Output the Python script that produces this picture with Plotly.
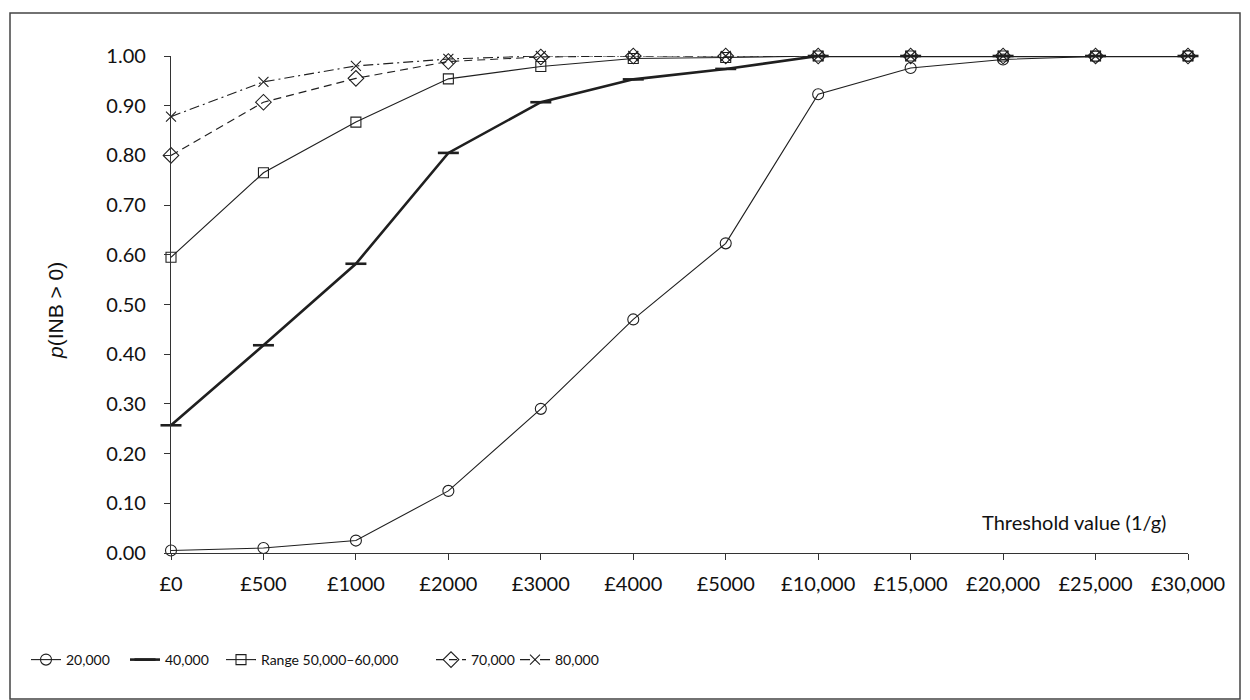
import plotly.graph_objects as go

categories = ["£0", "£500", "£1000", "£2000", "£3000", "£4000", "£5000",
              "£10,000", "£15,000", "£20,000", "£25,000", "£30,000"]
y_ticks = [0.0, 0.1, 0.2, 0.3, 0.4, 0.5, 0.6, 0.7, 0.8, 0.9, 1.0]

s_20000 = [0.005, 0.010, 0.025, 0.125, 0.290, 0.470, 0.623, 0.923, 0.976, 0.993, 0.999, 1.000]
s_40000 = [0.257, 0.418, 0.582, 0.805, 0.907, 0.953, 0.974, 1.000, 1.000, 1.000, 1.000, 1.000]
s_range = [0.595, 0.765, 0.867, 0.954, 0.979, 0.995, 0.997, 1.000, 1.000, 1.000, 1.000, 1.000]
s_70000 = [0.800, 0.907, 0.955, 0.989, 0.998, 1.000, 1.000, 1.000, 1.000, 1.000, 1.000, 1.000]
s_80000 = [0.878, 0.948, 0.980, 0.994, 1.000, 1.000, 1.000, 1.000, 1.000, 1.000, 1.000, 1.000]

series_names = ["20,000", "40,000", "Range 50,000\u201360,000", "70,000", "80,000"]

# page offset introduced by the default body margin of the html page
OFF = 8
W, H = 1250 - OFF, 700 - OFF
# plot area in page coordinates
L, R, T, B = 171, 1188, 56, 553
INK = "#1f1f1f"

def px(xp):
    return (xp - L) / (R - L)

def py(yp):
    return (B - yp) / (B - T)

fig = go.Figure()

styles = [
    dict(data=s_20000, line=dict(color=INK, width=1.1),
         marker=dict(symbol="circle-open", size=11, color=INK, line=dict(width=1.1))),
    dict(data=s_40000, line=dict(color=INK, width=2.6),
         marker=dict(symbol="line-ew", size=15, color=INK, line=dict(width=2.6, color=INK))),
    dict(data=s_range, line=dict(color=INK, width=1.1),
         marker=dict(symbol="square-open", size=10, color=INK, line=dict(width=1.1))),
    dict(data=s_70000, line=dict(color=INK, width=1.1, dash="8px,5px"),
         marker=dict(symbol="diamond-open", size=12, color=INK, line=dict(width=1.1))),
    dict(data=s_80000, line=dict(color=INK, width=1.1, dash="10px,4px,2px,4px"),
         marker=dict(symbol="x-thin-open", size=10, color=INK, line=dict(width=1.1, color=INK))),
]

legend_ids = ["legend", "legend2", "legend3", "legend4", "legend5"]
# page x of each legend box (marker centre sits ~19px to the right)
legend_x = [26, 125, 221, 431, 515]

for name, st, lid in zip(series_names, styles, legend_ids):
    fig.add_trace(go.Scatter(
        x=categories, y=st["data"], name=name, mode="lines+markers",
        line=st["line"], marker=st["marker"], cliponaxis=False,
        legend=lid, showlegend=True,
    ))

legend_font = dict(family="Lato, sans-serif", size=14, color="#111")
layout_legends = {}
for lid, lx in zip(legend_ids, legend_x):
    layout_legends[lid] = dict(
        x=px(lx), y=py(660), xanchor="left", yanchor="middle",
        orientation="h", font=legend_font, bgcolor="rgba(0,0,0,0)",
        borderwidth=0, itemwidth=30,
    )

tick_font = dict(family="Lato, sans-serif", size=20, color="#111")

fig.update_layout(
    width=W, height=H,
    margin=dict(l=L - OFF, r=W - (R - OFF), t=T - OFF, b=H - (B - OFF), pad=0),
    paper_bgcolor="white", plot_bgcolor="white",
    xaxis=dict(
        type="category", range=[0, len(categories) - 1],
        showgrid=False, zeroline=False,
        showline=True, linecolor="#333", linewidth=1.3,
        ticks="outside", ticklen=6, tickcolor="#333", tickwidth=1.3,
        tickfont=tick_font, ticklabelstandoff=7,
    ),
    yaxis=dict(
        range=[0, 1], tickvals=y_ticks, tickformat=".2f",
        showgrid=False, zeroline=False,
        showline=True, linecolor="#333", linewidth=1.3,
        ticks="outside", ticklen=6, tickcolor="#333", tickwidth=1.3,
        tickfont=tick_font, ticklabelstandoff=14,
    ),
    **layout_legends,
    annotations=[
        dict(text="Threshold value (1/g)", xref="paper", yref="paper",
             x=px(1168), y=py(522), xanchor="right", yanchor="middle",
             showarrow=False, font=tick_font),
        dict(text="<i>p</i>(INB > 0)", xref="paper", yref="paper",
             x=px(55), y=py(311), xanchor="center", yanchor="middle",
             textangle=-90, showarrow=False,
             font=dict(family="Liberation Sans, Arial, sans-serif", size=21, color="#111")),
    ],
    shapes=[
        dict(type="rect", xref="paper", yref="paper",
             x0=px(10), x1=px(1240), y0=py(699), y1=py(13),
             line=dict(color="#444", width=1.5), fillcolor="rgba(0,0,0,0)", layer="below"),
    ],
)

fig.write_html("out.html")
